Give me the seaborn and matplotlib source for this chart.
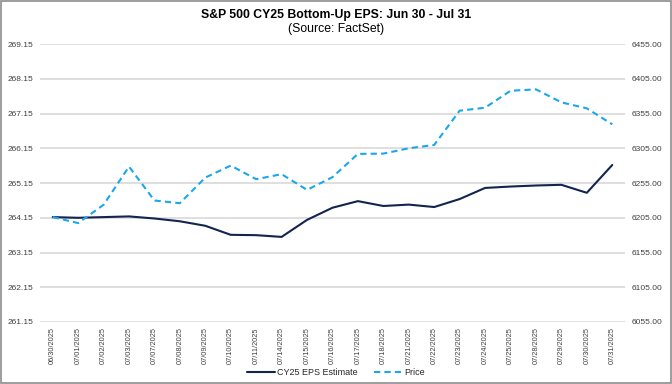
import matplotlib
matplotlib.use("Agg")
import matplotlib.pyplot as plt
import seaborn as sns
import pandas as pd
from matplotlib.patches import Rectangle
from matplotlib.lines import Line2D

dates = ["06/30/2025", "07/01/2025", "07/02/2025", "07/03/2025", "07/07/2025",
         "07/08/2025", "07/09/2025", "07/10/2025", "07/11/2025", "07/14/2025",
         "07/15/2025", "07/16/2025", "07/17/2025", "07/18/2025", "07/21/2025",
         "07/22/2025", "07/23/2025", "07/24/2025", "07/25/2025", "07/28/2025",
         "07/29/2025", "07/30/2025", "07/31/2025"]
eps = [264.17, 264.15, 264.17, 264.19, 264.13, 264.05, 263.92, 263.66, 263.65,
       263.60, 264.09, 264.44, 264.63, 264.49, 264.53, 264.46, 264.69, 265.01,
       265.05, 265.08, 265.10, 264.87, 265.67]
price = [6206.0, 6197.4, 6223.7, 6278.7, 6229.9, 6226.0, 6262.9, 6280.2, 6260.6,
         6267.8, 6245.2, 6263.5, 6297.0, 6297.4, 6305.1, 6309.9, 6359.2, 6363.5,
         6387.9, 6389.9, 6371.2, 6362.6, 6339.6]
left_ticks = [261.15, 262.15, 263.15, 264.15, 265.15, 266.15, 267.15, 268.15, 269.15]
right_ticks = [6055, 6105, 6155, 6205, 6255, 6305, 6355, 6405, 6455]

sns.set_theme(style="white")
plt.rcParams['font.family'] = ['Liberation Sans', 'DejaVu Sans']

df = pd.DataFrame({"x": range(len(dates)), "eps": eps, "price": price})

fig = plt.figure(figsize=(6.72, 3.84), dpi=100)
ax = fig.add_axes([0.0595, 0.1615, 0.8705, 0.7235])
ax2 = ax.twinx()

eps_color = "#13244F"
price_color = "#1AA7EC"
grid_color = "#D9D9D9"

for t in left_ticks:
    ax.axhline(t, color=grid_color, lw=1.2, zorder=0)

sns.lineplot(data=df, x="x", y="eps", ax=ax, color=eps_color, lw=1.5, zorder=3)
sns.lineplot(data=df, x="x", y="price", ax=ax2, color=price_color, lw=1.5,
             zorder=3)
ax2.lines[-1].set_dashes([3, 2])

ax.set_xlim(-0.5, len(dates) - 0.5)
ax.set_ylim(261.15, 269.15)
ax2.set_ylim(6055, 6455)
ax.set_yticks(left_ticks)
ax.set_yticklabels([f"{v:.2f}" for v in left_ticks])
ax2.set_yticks(right_ticks)
ax2.set_yticklabels([f"{v:.2f}" for v in right_ticks])
ax.set_xticks(range(len(dates)))
ax.set_xticklabels(dates, rotation=90, fontsize=5.3, color="#404040")
ax.tick_params(axis="y", labelsize=6, colors="#404040", length=0, pad=5)
ax2.tick_params(axis="y", labelsize=6, colors="#404040", length=0, pad=5)
ax.tick_params(axis="x", length=0, pad=4)
for a in (ax, ax2):
    for s in a.spines.values():
        s.set_visible(False)
    a.set_xlabel("")
    a.set_ylabel("")
    a.grid(False)

fig.text(0.5, 0.962, "S&P 500 CY25 Bottom-Up EPS: Jun 30 - Jul 31",
         ha="center", va="center", fontsize=8.8, fontweight="bold", color="#000000")
fig.text(0.5, 0.925, "(Source: FactSet)", ha="center", va="center",
         fontsize=8.8, color="#000000")

handles = [Line2D([0], [0], color=eps_color, lw=1.5),
           Line2D([0], [0], color=price_color, lw=1.5, dashes=[3, 2])]
fig.legend(handles, ["CY25 EPS Estimate", "Price"], loc="center",
           bbox_to_anchor=(0.5, 0.03), ncol=2, frameon=False, fontsize=6.5,
           handlelength=3.0, columnspacing=1.8, handletextpad=0.3)

fig.patches.append(Rectangle((0.001, 0.002), 0.997, 0.995, transform=fig.transFigure,
                             fill=False, edgecolor="#8C8C8C", lw=1.2))

fig.savefig("out.png", dpi=100)
